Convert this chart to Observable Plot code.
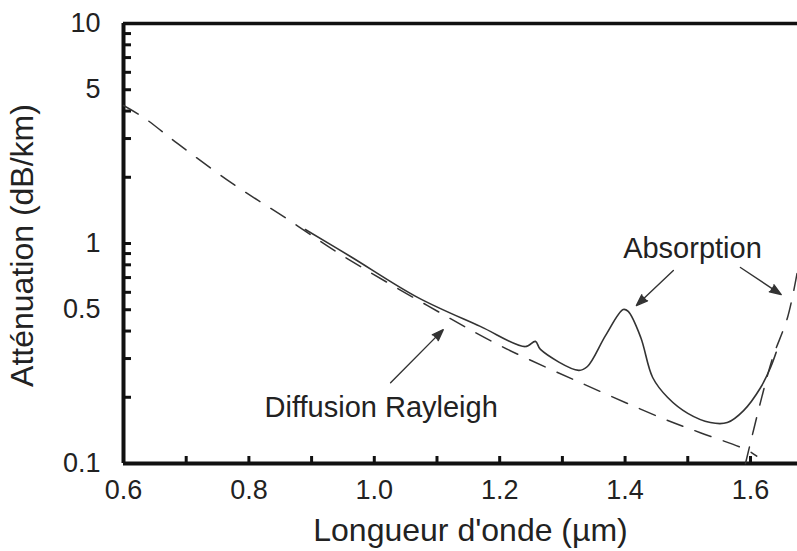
<!DOCTYPE html>
<html>
<head>
<meta charset="utf-8">
<script src="https://cdn.jsdelivr.net/npm/d3@7"></script>
<script src="https://cdn.jsdelivr.net/npm/@observablehq/plot@0.6"></script>
<style>
  body { margin: 0; background: #fff; }
  #chart svg { display: block; }
</style>
</head>
<body>
<div id="chart"></div>
<script>
// Measured fibre attenuation (solid curve)
const measuredWavelength = [0.890, 0.962, 1.069, 1.169, 1.241, 1.257, 1.265, 1.326, 1.340, 1.369, 1.397, 1.405, 1.425, 1.444, 1.468, 1.500, 1.536, 1.563, 1.589, 1.616, 1.632, 1.641];
const measuredAttenuation = [1.158, 0.873, 0.569, 0.420, 0.340, 0.359, 0.330, 0.265, 0.276, 0.382, 0.501, 0.491, 0.374, 0.246, 0.1995, 0.169, 0.1535, 0.1535, 0.174, 0.221, 0.273, 0.320];

// Rayleigh scattering (dashed curve)
const rayleighWavelength = [0.600, 0.632, 0.686, 0.774, 0.858, 0.949, 1.085, 1.201, 1.329, 1.456, 1.520, 1.595, 1.610];
const rayleighAttenuation = [4.24, 3.74, 2.85, 1.87, 1.31, 0.882, 0.522, 0.343, 0.233, 0.162, 0.138, 0.115, 0.108];

// Infrared absorption (dashed curve)
const infraredWavelength = [1.592, 1.616, 1.635, 1.659, 1.675];
const infraredAttenuation = [0.100, 0.190, 0.300, 0.460, 0.750];

// Axis ticks
const xTickLabels = [0.6, 0.8, 1.0, 1.2, 1.4, 1.6];
const xMinorTicks = [0.7, 0.8, 0.9, 1.0, 1.1, 1.2, 1.3, 1.4, 1.5, 1.6];
const yTickLabels = [0.1, 0.5, 1, 5, 10];
const yMinorTicks = [0.2, 0.3, 0.4, 0.5, 0.6, 0.7, 0.8, 0.9, 1, 2, 3, 4, 5, 6, 7, 8, 9];

// Annotations (data coordinates)
const annotationText = ["Diffusion Rayleigh", "Absorption"];
const annotationWavelength = [1.011, 1.5075];
const annotationAttenuation = [0.179, 0.949];
const arrowFromWavelength = [1.026, 1.477, 1.584];
const arrowFromAttenuation = [0.233, 0.754, 0.778];
const arrowToWavelength = [1.110, 1.418, 1.649];
const arrowToAttenuation = [0.406, 0.522, 0.586];

const xTitle = "Longueur d'onde (µm)";
const yTitle = "Atténuation (dB/km)";

const measured = measuredWavelength.map((w, i) => ({w, a: measuredAttenuation[i]}));
const rayleigh = rayleighWavelength.map((w, i) => ({w, a: rayleighAttenuation[i]}));
const infrared = infraredWavelength.map((w, i) => ({w, a: infraredAttenuation[i]}));
const labels = annotationText.map((t, i) => ({t, w: annotationWavelength[i], a: annotationAttenuation[i]}));
const arrows = arrowFromWavelength.map((w, i) => ({
  x1: w, y1: arrowFromAttenuation[i], x2: arrowToWavelength[i], y2: arrowToAttenuation[i]
}));

const ink = "#222";
const font = "'Liberation Sans', Arial, Helvetica, sans-serif";

const chart = Plot.plot({
  width: 797,
  height: 551,
  marginLeft: 123,
  marginRight: 0,
  marginTop: 23,
  marginBottom: 88,
  style: {fontFamily: font, background: "#fff", color: ink},
  x: {domain: [0.6, 1.675], label: null},
  y: {type: "log", domain: [0.1, 10], label: null},
  marks: [
    // inward ticks
    Plot.axisX(xMinorTicks, {anchor: "bottom", tickSize: -7, strokeWidth: 3, stroke: "#111", tickFormat: () => "", label: null}),
    Plot.axisY(yMinorTicks, {anchor: "left", tickSize: -8, strokeWidth: 3, stroke: "#111", tickFormat: () => "", label: null}),
    // tick labels
    Plot.axisX(xTickLabels, {anchor: "bottom", tickSize: 0, tickPadding: 16, fontSize: 27, fill: ink, tickFormat: d3.format(".1f"), label: null}),
    Plot.axisY(yTickLabels, {anchor: "left", tickSize: 0, tickPadding: 23, fontSize: 27, fill: ink, tickFormat: d => String(d), label: null}),
    // frame lines
    Plot.ruleX([0.6], {stroke: "#111", strokeWidth: 4}),
    Plot.ruleY([0.1], {stroke: "#111", strokeWidth: 4}),
    Plot.ruleY([10], {stroke: "#111", strokeWidth: 3.5}),
    // curves
    Plot.line(rayleigh, {x: "w", y: "a", stroke: "#333", strokeWidth: 1.5, strokeDasharray: "17,13", curve: "catmull-rom"}),
    Plot.line(infrared, {x: "w", y: "a", stroke: "#333", strokeWidth: 1.5, strokeDasharray: "17,13", curve: "catmull-rom"}),
    Plot.line(measured, {x: "w", y: "a", stroke: "#333", strokeWidth: 1.6, curve: "catmull-rom"}),
    // annotations
    Plot.arrow(arrows, {x1: "x1", y1: "y1", x2: "x2", y2: "y2", stroke: "#333", fill: "#333", strokeWidth: 1.4, headLength: 13, headAngle: 40}),
    Plot.text(labels, {x: "w", y: "a", text: "t", fontSize: 29, fill: ink}),
    // axis titles
    Plot.text([xTitle], {frameAnchor: "bottom", textAnchor: "middle", lineAnchor: "middle", dx: 10, dy: 67, fontSize: 32, fill: ink}),
    Plot.text([yTitle], {frameAnchor: "left", textAnchor: "middle", lineAnchor: "middle", dx: -101, dy: 2, rotate: -90, fontSize: 32, fill: ink})
  ]
});

document.getElementById("chart").appendChild(chart);
</script>
</body>
</html>
